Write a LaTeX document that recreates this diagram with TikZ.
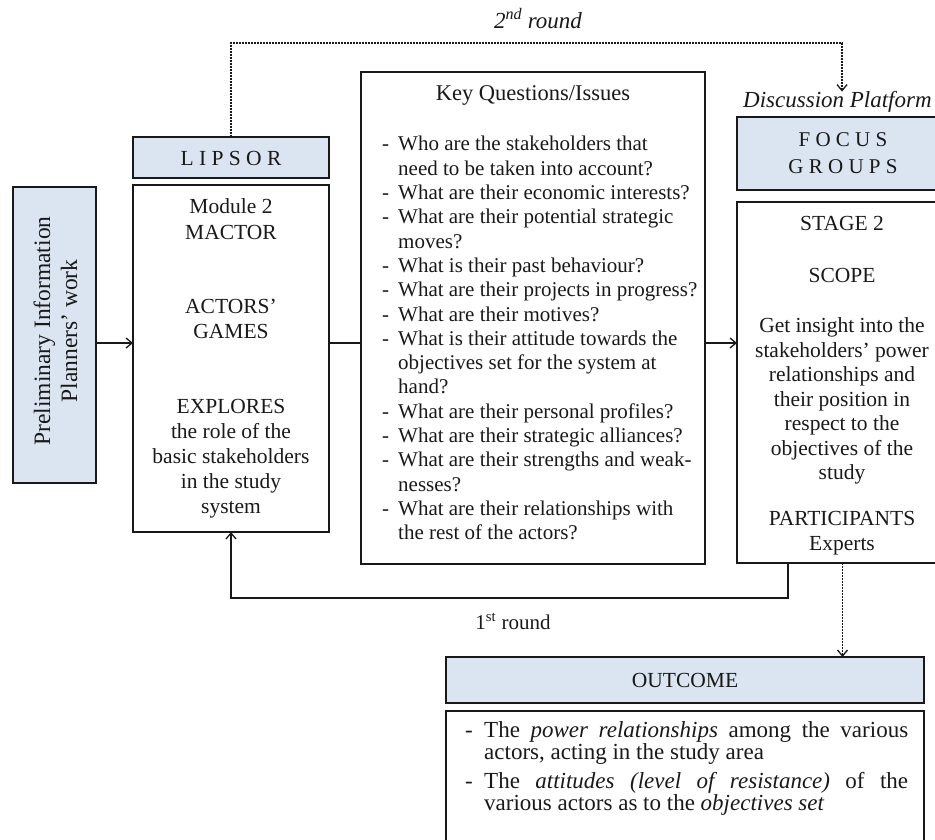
\documentclass[tikz,border=0pt]{standalone}
\usepackage{fontspec}
\setmainfont{Liberation Serif}
\usetikzlibrary{arrows.meta}

\definecolor{paleblue}{RGB}{219,229,241}
\definecolor{ink}{RGB}{25,25,25}

% one dash-led entry with a hanging indent (lines broken with \newline)
\newcommand\qitem[1]{\hangindent=16pt\hangafter=1\noindent\makebox[16pt][l]{-}#1\par}
\newcommand\ritem[1]{\hangindent=19pt\hangafter=1\noindent\makebox[19pt][l]{-}#1\par}
\newcommand\bodyfont{\fontsize{21}{24.3}\selectfont}

\tikzset{
  box/.style={draw=ink, line width=1.4pt, anchor=north west, inner sep=0pt, outer sep=0pt},
  tinted/.style={box, fill=paleblue},
  lbl/.style={inner sep=0pt, text=ink},
  link/.style={draw=ink, line width=1.3pt},
  tip/.style={-{Straight Barb[length=6pt,width=10pt,line width=1.3pt]}},
  dots/.style={line width=1.6pt, dash pattern=on 1.6pt off 1.4pt},
}

\begin{document}
\begin{tikzpicture}[x=1pt, y=-1pt]
\useasboundingbox (0,0) rectangle (935,840);
\clip (0,0) rectangle (935,840);

% boxes
\node[tinted, minimum width=83pt,  minimum height=296pt] (prelim)  at (13,187)  {};
\node[tinted, minimum width=196pt, minimum height=41pt]  (lipsor)  at (133,137) {};
\node[box,    minimum width=196pt, minimum height=347pt] (module)  at (133,185) {};
\node[box,    minimum width=344pt, minimum height=492pt] (kq)      at (361,72)  {};
\node[tinted, minimum width=211pt, minimum height=73pt]  (focus)   at (737,117) {};
\node[box,    minimum width=211pt, minimum height=361pt] (stage)   at (737,202) {};
\node[tinted, minimum width=478pt, minimum height=46pt]  (outcome) at (446,657) {};
\node[box,    minimum width=478pt, minimum height=140pt] (results) at (446,711) {};

% texts
\node[lbl, anchor=base] (secondround) at (538,29)
  {\itshape\fontsize{23}{26}\selectfont 2\textsuperscript{nd} round};
\node[lbl, anchor=base west] (platform) at (743,108)
  {\itshape\fontsize{23}{26}\selectfont Discussion Platform};
\node[lbl, anchor=base] (lipsortext) at (231,166)
  {\fontsize{21.5}{24}\selectfont L I P S O R};
\node[lbl, anchor=base] (focustext) at (843,147)
  {\parbox[t]{200pt}{\fontsize{21}{27}\selectfont\centering F O C U S\\G R O U P S}};
\node[lbl, rotate=90, align=center, font=\fontsize{23.5}{27}\selectfont] (prelimtext)
  at ([xshift=1pt, yshift=4pt]prelim.center) {Preliminary Information\\Planners' work};
\node[lbl, anchor=base] (modtext) at (231,214)
  {\parbox[t]{190pt}{\fontsize{21.5}{25}\selectfont\centering
   Module 2\\MACTOR\\[50pt]ACTORS'\\GAMES\\[50pt]EXPLORES\\the role of the\\
   basic stakeholders\\in the study\\system}};
\node[lbl, anchor=base] (kqtitle) at (533,101) {\fontsize{22.5}{25}\selectfont Key Questions/Issues};
\node[lbl, anchor=base west] (kqlist) at (382,151)
  {\parbox[t]{330pt}{\bodyfont\raggedright
   \qitem{Who are the stakeholders that\newline need to be taken into account?}
   \qitem{What are their economic interests?}
   \qitem{What are their potential strategic\newline moves?}
   \qitem{What is their past behaviour?}
   \qitem{What are their projects in progress?}
   \qitem{What are their motives?}
   \qitem{What is their attitude towards the\newline objectives set for the system at\newline hand?}
   \qitem{What are their personal profiles?}
   \qitem{What are their strategic alliances?}
   \qitem{What are their strengths and weak-\newline nesses?}
   \qitem{What are their relationships with\newline the rest of the actors?}}};
\node[lbl, anchor=base] (stagetext) at (842,230)
  {\parbox[t]{200pt}{\fontsize{21.5}{24.5}\selectfont\centering
   STAGE 2\\[27.5pt]SCOPE\\[26.5pt]Get insight into the\\stakeholders' power\\
   relationships and\\their position in\\respect to the\\objectives of the\\
   study\\[21.5pt]PARTICIPANTS\\Experts}};
\node[lbl, anchor=base] (firstround) at (513,629)
  {\fontsize{21}{24}\selectfont 1\textsuperscript{st} round};
\node[lbl, anchor=base] (outtext) at (685,687) {\fontsize{21.5}{24}\selectfont OUTCOME};
\node[lbl, anchor=base west] (resultlist) at (465,737)
  {\parbox[t]{443pt}{\fontsize{23}{22}\selectfont
   \ritem{The \textit{power relationships} among the various\linebreak actors, acting in the study area}
   \vspace{7pt}
   \ritem{The \textit{attitudes (level of resistance)} of the\linebreak various actors as to the \textit{objectives set}}}};

% connectors
\coordinate (flow) at (0,343);
\coordinate (fb) at (788,598);
\coordinate (ridge) at (842,43);
\draw[link, tip] (prelim.east |- flow) -- (module.west |- flow);
\draw[link] (module.east |- flow) -- (kq.west |- flow);
\draw[link, tip] (kq.east |- flow) -- (stage.west |- flow);
\draw[link, tip] (stage.south -| fb) -- (fb) -| (module.south);
\draw[link, dots, tip] (lipsor.north) |- (ridge) -- (ridge |- platform.north);
\draw[link, dots, tip] (stage.south) -- (outcome.north -| stage.south);
\end{tikzpicture}
\end{document}
